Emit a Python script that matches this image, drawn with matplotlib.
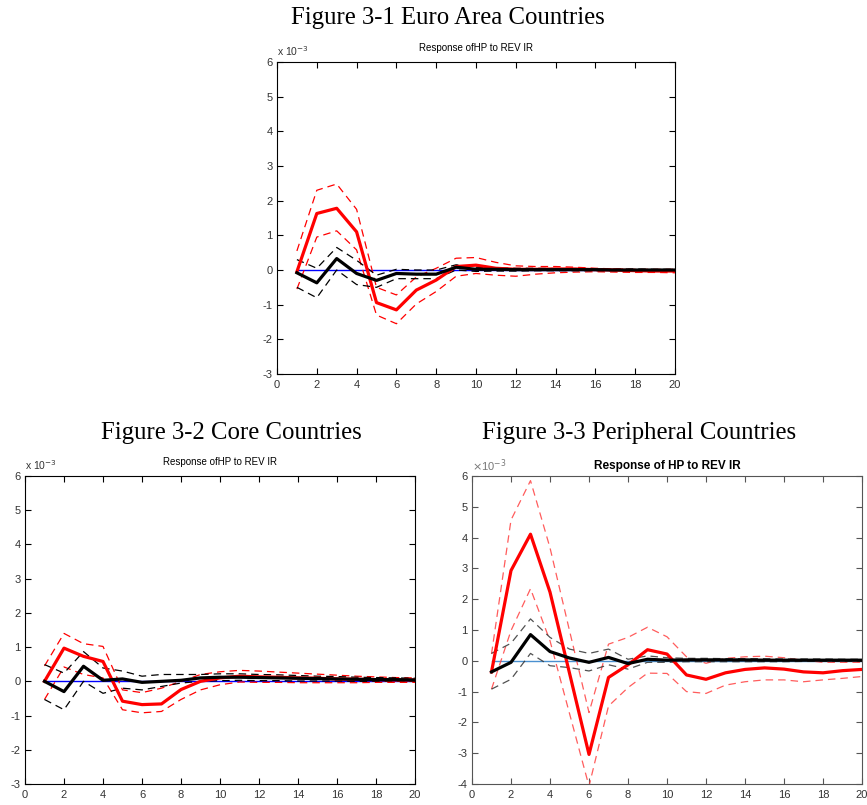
import matplotlib
matplotlib.use("Agg")
import matplotlib.pyplot as plt
import numpy as np

periods = list(range(1, 21))

# ---- Figure 3-1 Euro Area (values x 1e-3) ----
euro_red = [-0.05, 1.63, 1.78, 1.10, -0.94, -1.15, -0.58, -0.29, 0.10, 0.14, 0.05, 0.02, 0.02, 0.03, 0.03, 0.01, 0.0, -0.02, -0.03, -0.03]
euro_red_up = [0.55, 2.30, 2.48, 1.75, -0.50, -0.72, -0.20, 0.05, 0.34, 0.36, 0.22, 0.12, 0.10, 0.10, 0.08, 0.05, 0.03, 0.02, 0.02, 0.02]
euro_red_lo = [-0.55, 0.95, 1.13, 0.58, -1.30, -1.55, -0.98, -0.62, -0.18, -0.10, -0.15, -0.18, -0.12, -0.08, -0.06, -0.05, -0.06, -0.07, -0.07, -0.08]
euro_blk = [-0.08, -0.37, 0.33, -0.10, -0.30, -0.10, -0.12, -0.12, 0.08, 0.02, 0.02, 0.01, 0.01, 0.01, 0.01, 0.01, 0.0, 0.0, 0.0, 0.0]
euro_blk_up = [0.30, 0.05, 0.65, 0.28, -0.15, 0.02, 0.0, 0.0, 0.15, 0.08, 0.06, 0.05, 0.05, 0.04, 0.04, 0.03, 0.03, 0.03, 0.02, 0.02]
euro_blk_lo = [-0.50, -0.80, 0.0, -0.42, -0.50, -0.25, -0.25, -0.25, 0.0, -0.04, -0.03, -0.03, -0.02, -0.02, -0.02, -0.02, -0.02, -0.02, -0.02, -0.02]

# ---- Figure 3-2 Core ----
core_red = [0.0, 0.97, 0.73, 0.58, -0.58, -0.68, -0.66, -0.24, 0.0, 0.10, 0.15, 0.13, 0.12, 0.10, 0.09, 0.07, 0.06, 0.05, 0.04, 0.04]
core_red_up = [0.45, 1.40, 1.10, 1.02, -0.25, -0.33, -0.20, 0.0, 0.20, 0.28, 0.32, 0.30, 0.27, 0.24, 0.21, 0.18, 0.15, 0.13, 0.11, 0.10]
core_red_lo = [-0.53, 0.42, 0.20, 0.10, -0.83, -0.92, -0.88, -0.53, -0.25, -0.10, -0.02, -0.03, -0.03, -0.04, -0.04, -0.04, -0.04, -0.03, -0.03, -0.03]
core_blk = [0.0, -0.30, 0.44, 0.03, 0.07, -0.03, 0.0, 0.03, 0.10, 0.12, 0.12, 0.11, 0.10, 0.09, 0.08, 0.07, 0.06, 0.05, 0.05, 0.04]
core_blk_up = [0.49, 0.24, 0.87, 0.39, 0.30, 0.15, 0.20, 0.20, 0.20, 0.22, 0.22, 0.20, 0.19, 0.17, 0.15, 0.14, 0.12, 0.11, 0.10, 0.09]
core_blk_lo = [-0.53, -0.83, 0.0, -0.35, -0.20, -0.25, -0.15, -0.05, 0.0, 0.02, 0.03, 0.02, 0.02, 0.01, 0.01, 0.01, 0.0, 0.0, 0.0, 0.0]

# ---- Figure 3-3 Peripheral ----
peri_red = [-0.36, 2.93, 4.11, 2.23, -0.40, -3.04, -0.54, -0.13, 0.36, 0.22, -0.46, -0.60, -0.39, -0.28, -0.23, -0.27, -0.36, -0.39, -0.32, -0.28]
peri_red_up = [0.22, 4.57, 5.85, 3.67, 0.98, -1.68, 0.54, 0.76, 1.09, 0.78, 0.13, -0.08, 0.08, 0.13, 0.15, 0.10, 0.02, -0.05, -0.05, -0.05]
peri_red_lo = [-0.92, 0.98, 2.34, 0.65, -1.71, -4.07, -1.47, -0.87, -0.40, -0.41, -1.00, -1.06, -0.79, -0.68, -0.62, -0.62, -0.68, -0.62, -0.57, -0.51]
peri_blk = [-0.36, -0.05, 0.85, 0.30, 0.09, -0.05, 0.11, -0.09, 0.05, 0.02, 0.03, 0.03, 0.03, 0.03, 0.02, 0.02, 0.02, 0.02, 0.02, 0.02]
peri_blk_up = [0.24, 0.57, 1.36, 0.76, 0.38, 0.24, 0.38, 0.05, 0.16, 0.10, 0.08, 0.08, 0.07, 0.07, 0.07, 0.06, 0.06, 0.06, 0.05, 0.05]
peri_blk_lo = [-0.92, -0.60, 0.24, -0.16, -0.22, -0.33, -0.13, -0.27, -0.05, -0.05, -0.03, -0.03, -0.03, -0.03, -0.03, -0.03, -0.02, -0.02, -0.02, -0.02]

xticks = list(range(0, 21, 2))
panel_titles = ["Figure 3-1 Euro Area Countries", "Figure 3-2 Core Countries", "Figure 3-3 Peripheral Countries"]
sub_title = "Response ofHP to REV IR"
sub_title_new = "Response of HP to REV IR"

SANS = ["Liberation Sans", "DejaVu Sans"]
SERIF = ["Liberation Serif", "DejaVu Serif"]

fig = plt.figure(figsize=(8.67, 8.05), dpi=100)
W, H = 867.0, 805.0

def make_ax(l, r, t, b):
    return fig.add_axes([l / W, 1 - b / H, (r - l) / W, (b - t) / H])

def style(ax, ylim, yticks, axcol, tickcol):
    ax.set_xlim(0, 20)
    ax.set_ylim(*ylim)
    ax.set_xticks(xticks)
    ax.set_yticks(yticks)
    ax.set_xticklabels([str(v) for v in xticks], family=SANS, fontsize=8, color=tickcol)
    ax.set_yticklabels([str(v) for v in yticks], family=SANS, fontsize=8, color=tickcol)
    ax.tick_params(direction="in", length=4, width=0.8, top=True, right=True, colors=axcol, labelcolor=tickcol)
    ax.tick_params(axis="x", pad=4)
    ax.tick_params(axis="y", pad=3)
    for s in ax.spines.values():
        s.set_color(axcol)
        s.set_linewidth(0.8)

def draw(ax, red, ru, rl, blk, bu, bl, zero_col, red_dash_col, blk_dash_col, dash_alpha):
    ax.plot(periods, [0] * len(periods), color=zero_col, lw=1.0, zorder=1)
    ax.plot(periods, ru, color=red_dash_col, lw=0.9, ls=(0, (6, 4)), alpha=dash_alpha, zorder=2)
    ax.plot(periods, rl, color=red_dash_col, lw=0.9, ls=(0, (6, 4)), alpha=dash_alpha, zorder=2)
    ax.plot(periods, bu, color=blk_dash_col, lw=0.9, ls=(0, (6, 4)), alpha=dash_alpha, zorder=2)
    ax.plot(periods, bl, color=blk_dash_col, lw=0.9, ls=(0, (6, 4)), alpha=dash_alpha, zorder=2)
    ax.plot(periods, red, color="#ff0000", lw=2.3, zorder=3)
    ax.plot(periods, blk, color="black", lw=2.3, zorder=4)

# Top panel
ax1 = make_ax(277, 675, 62, 374)
draw(ax1, euro_red, euro_red_up, euro_red_lo, euro_blk, euro_blk_up, euro_blk_lo, "#0000ff", "#ff0000", "black", 1.0)
style(ax1, (-3, 6), list(range(-3, 7)), "black", "#333333")
ax1.set_title(sub_title, family=SANS, fontsize=7, pad=8)
ax1.text(0.0, 1.012, r"x 10$^{-3}$", transform=ax1.transAxes, family=SANS, fontsize=7.5, ha="left", va="bottom", color="#333333")

# Bottom-left
ax2 = make_ax(25, 415, 476, 784)
draw(ax2, core_red, core_red_up, core_red_lo, core_blk, core_blk_up, core_blk_lo, "#0000ff", "#ff0000", "black", 1.0)
style(ax2, (-3, 6), list(range(-3, 7)), "black", "#333333")
ax2.set_title(sub_title, family=SANS, fontsize=7, pad=8)
ax2.text(0.0, 1.012, r"x 10$^{-3}$", transform=ax2.transAxes, family=SANS, fontsize=7.5, ha="left", va="bottom", color="#333333")

# Bottom-right
ax3 = make_ax(472, 862, 476, 784)
draw(ax3, peri_red, peri_red_up, peri_red_lo, peri_blk, peri_blk_up, peri_blk_lo, "#4a90d0", "#ff4040", "#333333", 0.85)
style(ax3, (-4, 6), list(range(-4, 7)), "#555555", "#333333")
ax3.set_title(sub_title_new, family=SANS, fontsize=8.5, fontweight="bold", pad=5)
ax3.text(0.0, 1.005, r"$\times$10$^{-3}$", transform=ax3.transAxes, family=SANS, fontsize=8, ha="left", va="bottom", color="#777777")

# Figure captions
fig.text(448 / W, 1 - 18 / H, panel_titles[0], family=SERIF, fontsize=17.8, ha="center", va="center")
fig.text(231 / W, 1 - 433 / H, panel_titles[1], family=SERIF, fontsize=17.8, ha="center", va="center")
fig.text(639 / W, 1 - 433 / H, panel_titles[2], family=SERIF, fontsize=17.8, ha="center", va="center")

fig.savefig("out.png", dpi=100)
